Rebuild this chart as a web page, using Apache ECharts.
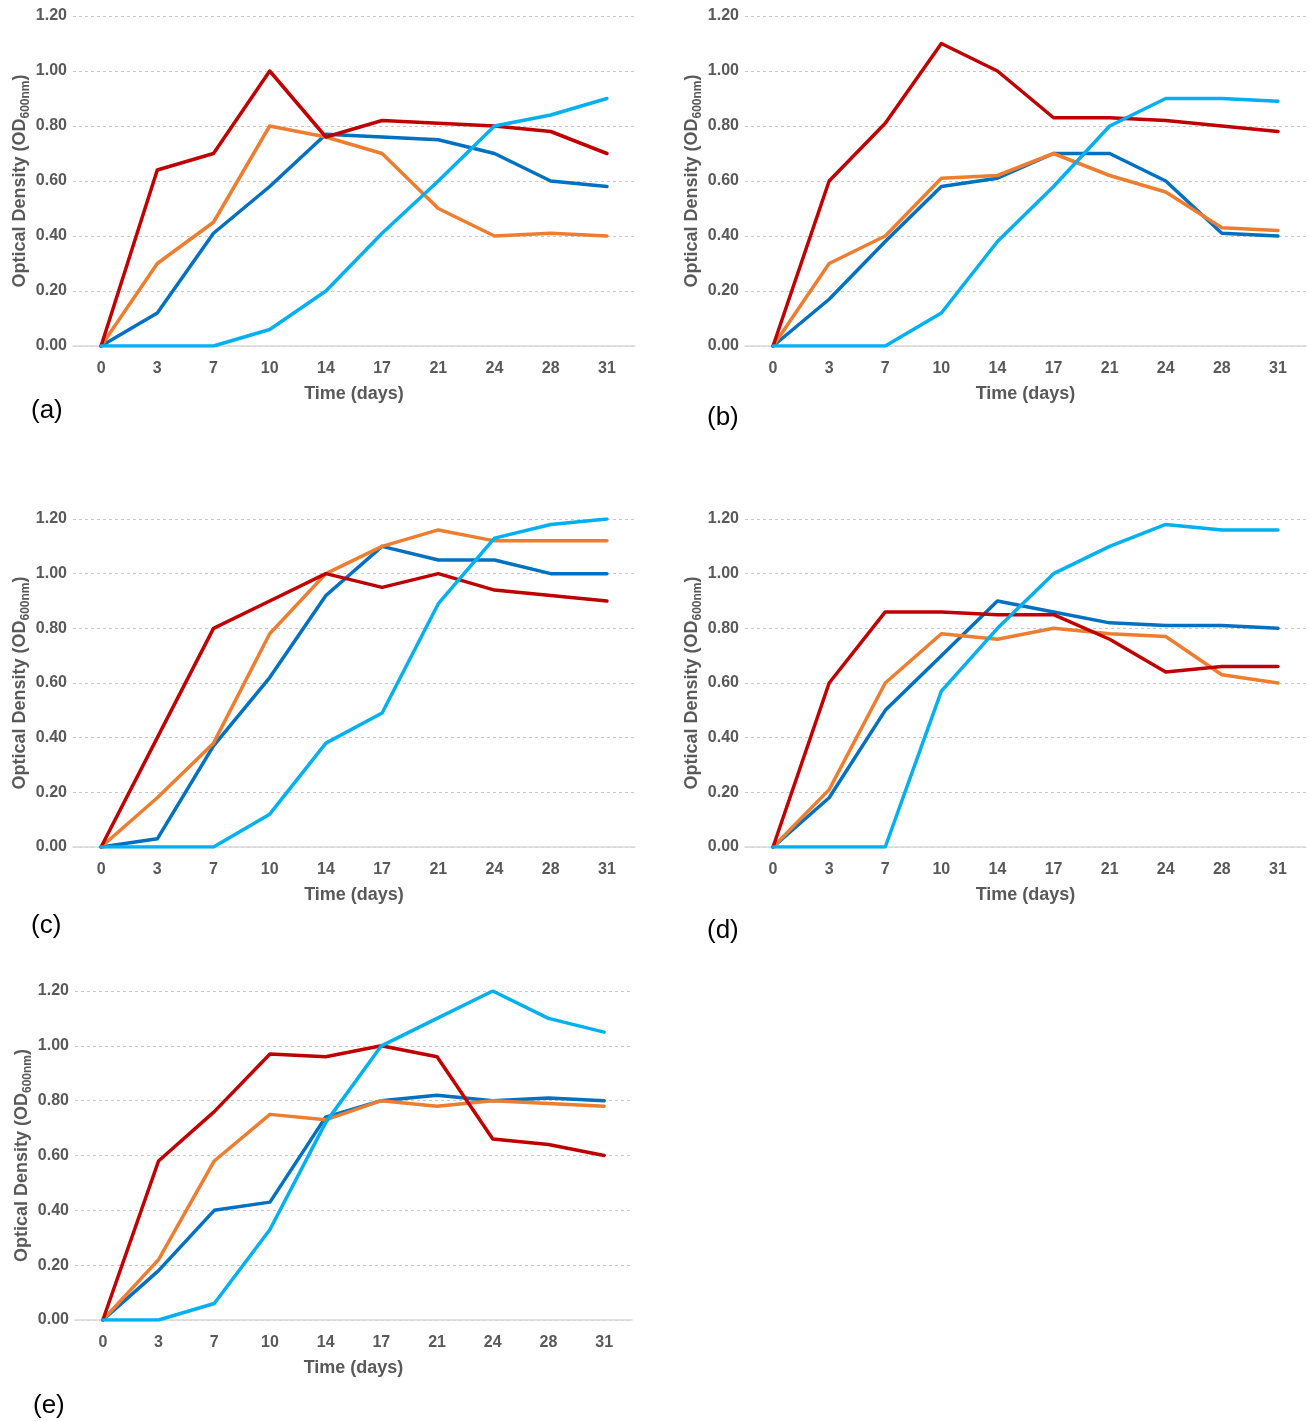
<!DOCTYPE html>
<html>
<head>
<meta charset="utf-8">
<script src="https://cdn.jsdelivr.net/npm/echarts@6/dist/echarts.min.js"></script>
<style>
html,body{margin:0;padding:0;background:#fff;}
#chart{width:1309px;height:1421px;}
</style>
</head>
<body>
<div id="chart"></div>
<script>
const days = ['0','3','7','10','14','17','21','24','28','31'];

const aRed    = [0,0.64,0.70,1.00,0.76,0.82,0.81,0.80,0.78,0.70];
const aOrange = [0,0.30,0.45,0.80,0.76,0.70,0.50,0.40,0.41,0.40];
const aBlue   = [0,0.12,0.41,0.58,0.77,0.76,0.75,0.70,0.60,0.58];
const aCyan   = [0,0,0,0.06,0.20,0.41,0.60,0.80,0.84,0.90];

const bRed    = [0,0.60,0.81,1.10,1.00,0.83,0.83,0.82,0.80,0.78];
const bOrange = [0,0.30,0.40,0.61,0.62,0.70,0.62,0.56,0.43,0.42];
const bBlue   = [0,0.17,0.38,0.58,0.61,0.70,0.70,0.60,0.41,0.40];
const bCyan   = [0,0,0,0.12,0.38,0.58,0.80,0.90,0.90,0.89];

const cRed    = [0,0.40,0.80,0.90,1.00,0.95,1.00,0.94,0.92,0.90];
const cOrange = [0,0.18,0.38,0.78,1.00,1.10,1.16,1.12,1.12,1.12];
const cBlue   = [0,0.03,0.37,0.62,0.92,1.10,1.05,1.05,1.00,1.00];
const cCyan   = [0,0,0,0.12,0.38,0.49,0.89,1.13,1.18,1.20];

const dRed    = [0,0.60,0.86,0.86,0.85,0.85,0.76,0.64,0.66,0.66];
const dOrange = [0,0.21,0.60,0.78,0.76,0.80,0.78,0.77,0.63,0.60];
const dBlue   = [0,0.18,0.50,0.70,0.90,0.86,0.82,0.81,0.81,0.80];
const dCyan   = [0,0,0,0.57,0.80,1.00,1.10,1.18,1.16,1.16];

const eRed    = [0,0.58,0.76,0.97,0.96,1.00,0.96,0.66,0.64,0.60];
const eOrange = [0,0.22,0.58,0.75,0.73,0.80,0.78,0.80,0.79,0.78];
const eBlue   = [0,0.18,0.40,0.43,0.74,0.80,0.82,0.80,0.81,0.80];
const eCyan   = [0,0,0.06,0.33,0.72,1.00,1.10,1.20,1.10,1.05];

const panelLabels = ['(a)','(b)','(c)','(d)','(e)'];
const xTitle = 'Time (days)';
const yTitle = '{n|Optical Density (OD}{s|600nm}{n|)}';

const panels = [
  {blue:aBlue, orange:aOrange, red:aRed, cyan:aCyan},
  {blue:bBlue, orange:bOrange, red:bRed, cyan:bCyan},
  {blue:cBlue, orange:cOrange, red:cRed, cyan:cCyan},
  {blue:dBlue, orange:dOrange, red:dRed, cyan:dCyan},
  {blue:eBlue, orange:eOrange, red:eRed, cyan:eCyan}
];

const colors = {blue:'#0070C0', orange:'#ED7D31', red:'#C00000', cyan:'#00B0F0'};
const order = ['blue','orange','red','cyan'];

const gridPos = [
  {left:73,  top:16,  width:562, height:330},
  {left:745, top:16,  width:561, height:330},
  {left:73,  top:519, width:562, height:328},
  {left:745, top:519, width:561, height:328},
  {left:75,  top:991, width:557, height:329}
];
const labelPos = [
  {left:31, top:398},
  {left:707, top:405},
  {left:31, top:913},
  {left:707, top:918},
  {left:33, top:1393}
];

const FONT = '"Liberation Sans", Arial, sans-serif';
const GRAY = '#595959';

const option = {
  backgroundColor:'#fff',
  animation:false,
  title: panelLabels.map((t,i)=>({
    text:t, left:labelPos[i].left, top:labelPos[i].top, padding:0,
    textStyle:{fontFamily:FONT, fontSize:26, fontWeight:'normal', color:'#000'}
  })),
  grid: gridPos.map(g=>Object.assign({containLabel:false}, g)),
  xAxis: gridPos.map((g,i)=>({
    type:'category', gridIndex:i, data:days, boundaryGap:true,
    axisTick:{show:false},
    axisLine:{show:true, lineStyle:{color:'#d9d9d9', width:1.5}},
    axisLabel:{color:GRAY, fontFamily:FONT, fontWeight:'bold', fontSize:16, margin:15},
    name:xTitle, nameLocation:'middle', nameGap:39,
    nameTextStyle:{color:GRAY, fontFamily:FONT, fontWeight:'bold', fontSize:18},
    splitLine:{show:false}
  })),
  yAxis: gridPos.map((g,i)=>({
    type:'value', gridIndex:i, min:0, max:1.2, interval:0.2,
    axisLine:{show:false}, axisTick:{show:false},
    axisLabel:{color:GRAY, fontFamily:FONT, fontWeight:'bold', fontSize:16, margin:6,
      formatter:v=>v.toFixed(2)},
    splitLine:{show:true, lineStyle:{color:'#c8c8c8', width:1, type:[3,3]}},
    name:yTitle, nameLocation:'middle', nameGap:40,
    nameTextStyle:{
      color:GRAY,
      rich:{
        n:{fontFamily:FONT, fontWeight:'bold', fontSize:18, color:GRAY, lineHeight:24, verticalAlign:'middle'},
        s:{fontFamily:FONT, fontWeight:'bold', fontSize:12, color:GRAY, lineHeight:24, verticalAlign:'bottom'}
      }
    }
  })),
  series: []
};

panels.forEach((p,i)=>{
  order.forEach(k=>{
    option.series.push({
      type:'line', xAxisIndex:i, yAxisIndex:i, data:p[k],
      symbol:'none', smooth:false,
      lineStyle:{color:colors[k], width:3.5, cap:'round', join:'round'},
      itemStyle:{color:colors[k]}
    });
  });
});

const chart = echarts.init(document.getElementById('chart'), null, {renderer:'canvas'});
chart.setOption(option);
</script>
</body>
</html>
